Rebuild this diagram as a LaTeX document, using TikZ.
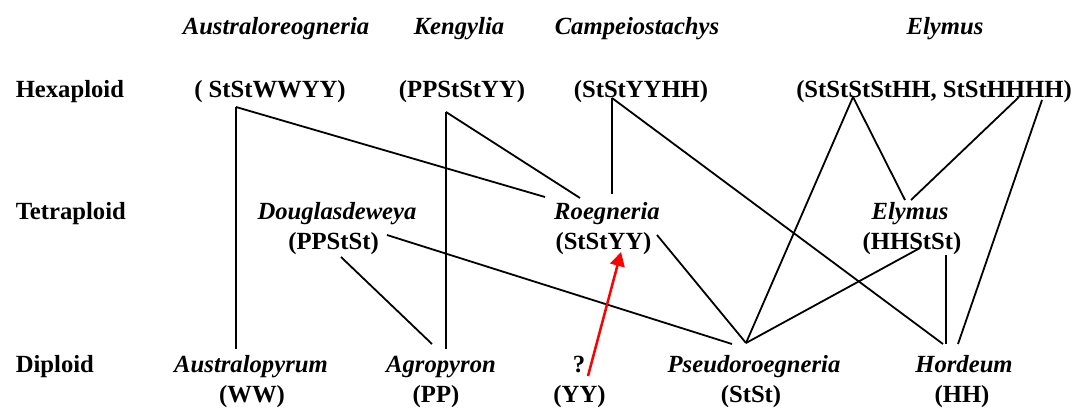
\documentclass[tikz,border=0pt]{standalone}
\usepackage{fontspec}
\setmainfont{Liberation Serif}
\usetikzlibrary{arrows.meta}
\begin{document}
\begin{tikzpicture}[x=0.75pt,y=-0.75pt,
  lab/.style={anchor=base, inner sep=0pt, font=\fontsize{18.5}{20}\selectfont\bfseries},
  gen/.style={anchor=base, inner sep=0pt, font=\fontsize{18.5}{20}\selectfont\bfseries\itshape},
  rowlab/.style={anchor=base west, inner sep=0pt, font=\fontsize{18.5}{20}\selectfont\bfseries},
  link/.style={line width=1.35pt, black},
  hint/.style={red, line width=1.9pt, -{Triangle[length=10.5pt,width=11pt]}}
]
\useasboundingbox (0,0) rectangle (1078,407);

% column titles
\node[gen] (tAus) at (276,34) {Australoreogneria};
\node[gen] (tKen) at (459,34) {Kengylia};
\node[gen] (tCam) at (637,34) {Campeiostachys};
\node[gen] (tEly) at (945,34) {Elymus};

% hexaploid
\node[rowlab] (rHex) at (15.5,97) {Hexaploid};
\node[lab] (hA) at (270,97) {( StStWWYY)};
\node[lab] (hK) at (462,97) {(PPStStYY)};
\node[lab] (hC) at (641,97) {(StStYYHH)};
\node[lab] (hE) at (934,97) {(StStStStHH, StStHHHH)};

% tetraploid
\node[rowlab] (rTet) at (15.5,219) {Tetraploid};
\node[gen] (tD) at (337,219) {Douglasdeweya};
\node[lab] (tDg) at (333.5,249) {(PPStSt)};
\node[gen] (tR) at (607,219) {Roegneria};
\node[lab] (tRg) at (603.5,249) {(StStYY)};
\node[gen] (tE) at (910,219) {Elymus};
\node[lab] (tEg) at (912,249) {(HHStSt)};

% diploid
\node[rowlab] (rDip) at (15.5,372) {Diploid};
\node[gen] (dA) at (251,372) {Australopyrum};
\node[lab] (dAg) at (252,402) {(WW)};
\node[gen] (dG) at (441,372) {Agropyron};
\node[lab] (dGg) at (436,402) {(PP)};
\node[lab] (dQ) at (579,372) {?};
\node[lab] (dQg) at (579.5,402) {(YY)};
\node[gen] (dP) at (754,372) {Pseudoroegneria};
\node[lab] (dPg) at (751,402) {(StSt)};
\node[gen] (dH) at (964,372) {Hordeum};
\node[lab] (dHg) at (962,402) {(HH)};

% connector end points
\coordinate (hA-b) at (236,107);
\coordinate (hK-b) at (446,112);
\coordinate (hC-b) at (612,98);
\coordinate (hE-l) at (853,97);
\coordinate (hE-m) at (1019,97);
\coordinate (hE-r) at (1042,100);
\coordinate (tD-r) at (387,235);
\coordinate (tD-b) at (341,257);
\coordinate (tR-l) at (545,197);
\coordinate (tR-tl) at (580,198);
\coordinate (tR-t) at (612,194);
\coordinate (tR-br) at (657,235);
\coordinate (tR-a) at (621,252);
\coordinate (tE-tl) at (905,200);
\coordinate (tE-tr) at (911,200);
\coordinate (tE-bl) at (920,248);
\coordinate (tE-b) at (946,255);
\coordinate (dA-t) at (236,349);
\coordinate (dG-d) at (432,344);
\coordinate (dG-v) at (446,349);
\coordinate (dQ-a) at (588,376);
\coordinate (dP-l) at (732,344);
\coordinate (dP-a) at (746,343);
\coordinate (dH-l) at (943,344);
\coordinate (dH-v) at (946,344);
\coordinate (dH-r) at (958,344);

% connectors
\draw[link] (hA-b) -- (dA-t);
\draw[link] (hA-b) -- (tR-l);
\draw[link] (hK-b) -- (dG-v);
\draw[link] (hK-b) -- (tR-tl);
\draw[link] (hC-b) -- (tR-t);
\draw[link] (hC-b) -- (dH-l);
\draw[link] (hE-l) -- (tE-tl);
\draw[link] (hE-l) -- (dP-a);
\draw[link] (hE-m) -- (tE-tr);
\draw[link] (hE-r) -- (dH-r);
\draw[link] (tD-r) -- (dP-l);
\draw[link] (tD-b) -- (dG-d);
\draw[link] (tR-br) -- (dP-a);
\draw[link] (tE-bl) -- (dP-a);
\draw[link] (tE-b) -- (dH-v);
\draw[hint] (dQ-a) -- (tR-a);
\end{tikzpicture}
\end{document}
